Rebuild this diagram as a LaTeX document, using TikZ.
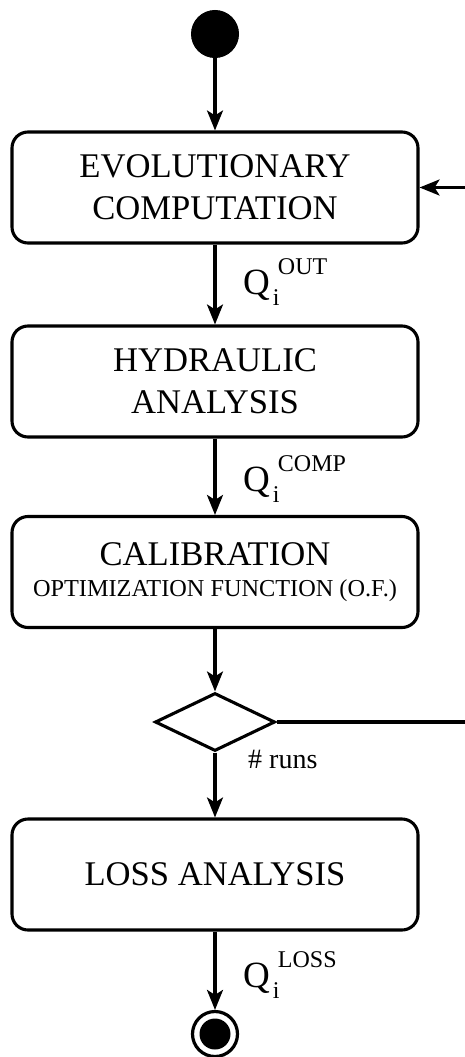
\documentclass[tikz,border=0pt]{standalone}
\usepackage{fontspec}
\setmainfont{Liberation Serif}
\usetikzlibrary{arrows.meta,shapes.geometric}
\tikzset{
  stepbox/.style={draw,line width=3.1pt,rounded corners=16pt,minimum width=406pt,minimum height=111pt,inner sep=0pt,align=center,font=\fontsize{34.6}{42}\selectfont},
  flow/.style={line width=3.1pt,-{Stealth[length=20pt,width=16pt,inset=5pt]}},
  plain/.style={line width=3.1pt},
  lbl/.style={anchor=base west,inner sep=0pt,font=\fontsize{37}{37}\selectfont},
}
\newcommand{\qlab}[1]{Q\kern3pt\rlap{\raisebox{-11pt}{\fontsize{24}{24}\selectfont i}}\kern5pt\raisebox{20pt}{\fontsize{24}{24}\selectfont #1}}
\begin{document}
\begin{tikzpicture}[x=1pt,y=-1pt]
\useasboundingbox (0,0) rectangle (465,1057);
\node[circle,fill=black,draw=black,line width=1pt,minimum size=47pt,inner sep=0pt] (start) at (215,34) {};
\node[stepbox] (evo) at (215,187.5) {EVOLUTIONARY\\COMPUTATION};
\node[stepbox] (hyd) at (215,381.5) {HYDRAULIC\\ANALYSIS};
\node[stepbox] (cal) at (215,572) {CALIBRATION\\[-11pt]{\fontsize{24.3}{28}\selectfont OPTIMIZATION FUNCTION (O.F.)}};
\node[diamond,draw,line width=3.1pt,minimum width=120pt,minimum height=58pt,inner sep=0pt] (dec) at (215,722) {};
\node[stepbox] (loss) at (215,874.5) {LOSS ANALYSIS};
\node[circle,draw,line width=3.2pt,minimum size=45pt,inner sep=0pt] (stop) at (215,1034) {};
\fill (stop.center) circle (15.5pt);
\coordinate (loopin) at (465,187.5);
\coordinate (loopout) at (465,722);
\draw[flow] (start) -- (evo);
\draw[flow] (evo) -- (hyd);
\draw[flow] (hyd) -- (cal);
\draw[flow] (cal) -- (dec);
\draw[flow] (dec) -- (loss);
\draw[flow] (loss) -- (stop);
\draw[flow] (loopin) -- (evo.east);
\draw[plain] (dec.east) -- (loopout);
\node[lbl] (qout) at (243,294) {\qlab{OUT}};
\node[lbl] (qcomp) at (243,491) {\qlab{COMP}};
\node[lbl] (qloss) at (243,987) {\qlab{LOSS}};
\node[anchor=base west,inner sep=0pt,font=\fontsize{28}{28}\selectfont] (runs) at (248,768) {\# runs};
\end{tikzpicture}
\end{document}
